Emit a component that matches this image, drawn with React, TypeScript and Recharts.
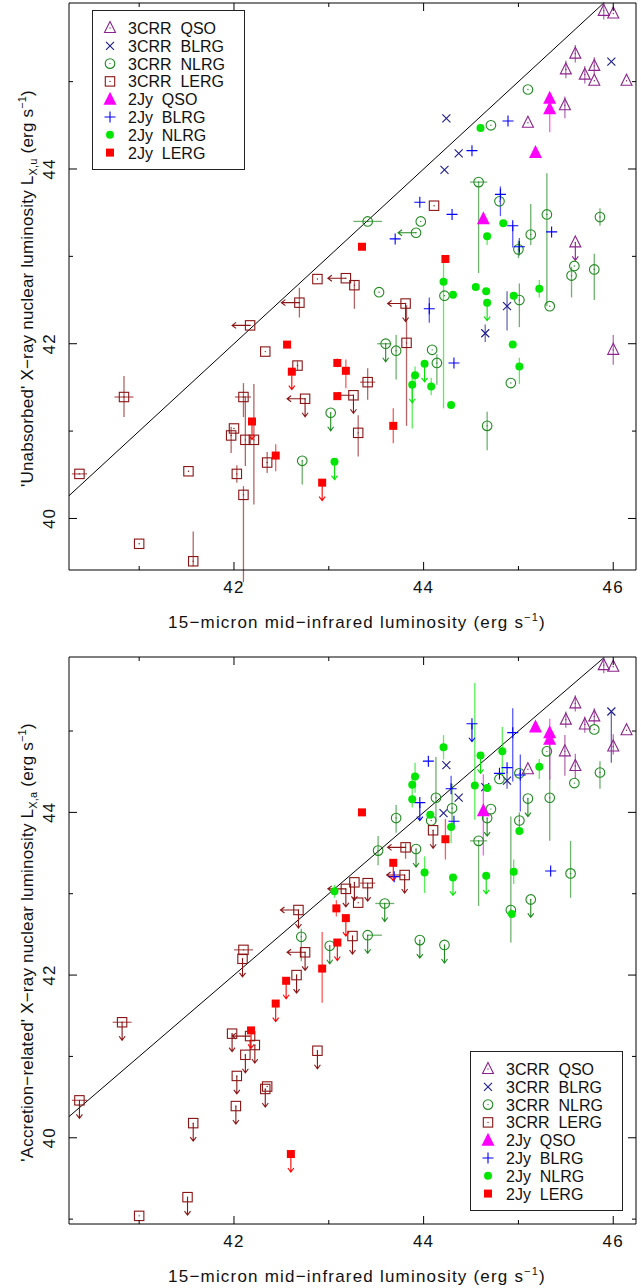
import React from "react";
import { ScatterChart, Scatter, XAxis, YAxis, ErrorBar, ReferenceLine } from "recharts";

type Pt = { x: number; y: number; ey?: [number, number]; ex?: [number, number]; dn?: boolean; lf?: boolean };

const FONT = "Liberation Sans, Arial, sans-serif";

const X_DOMAIN: [number, number] = [40.26, 46.24];
const Y_DOMAIN_U: [number, number] = [39.41, 45.9];
const Y_DOMAIN_A: [number, number] = [38.94, 45.91];
const X_TICKS = [41, 42, 43, 44, 45, 46];
const Y_TICKS_U = [40, 41, 42, 43, 44, 45];
const Y_TICKS_A = [39, 40, 41, 42, 43, 44, 45];
const EQUAL_LINE = [40.26, 45.9];

// ---- top panel: 'unabsorbed' luminosity ----
const uQso3: Pt[] = [
  { x: 45.9, y: 45.81, ey: [0.1, 0.1] },
  { x: 46.0, y: 45.78 },
  { x: 45.6, y: 45.32, ey: [0.1, 0.1] },
  { x: 45.5, y: 45.14, ey: [0.1, 0.1] },
  { x: 45.8, y: 45.18, ey: [0.1, 0.1] },
  { x: 45.7, y: 45.08, ey: [0.1, 0.1] },
  { x: 45.8, y: 45.01 },
  { x: 46.14, y: 45.01 },
  { x: 45.49, y: 44.73, ey: [0.15, 0.1] },
  { x: 45.1, y: 44.53 },
  { x: 45.6, y: 43.16, dn: true },
  { x: 46.0, y: 41.93, ey: [0.17, 0.17] },
];
const uBlrg3: Pt[] = [
  { x: 45.98, y: 45.23 },
  { x: 44.24, y: 44.58 },
  { x: 44.37, y: 44.18 },
  { x: 44.22, y: 43.99 },
  { x: 44.88, y: 42.43, ey: [0.28, 0.17] },
  { x: 44.65, y: 42.12, ey: [0.1, 0.1] },
];
const uNlrg3: Pt[] = [
  { x: 45.1, y: 44.91 },
  { x: 44.71, y: 44.5 },
  { x: 44.58, y: 43.85, ex: [0.09, 0.09], ey: [1.04, 0] },
  { x: 44.8, y: 43.63 },
  { x: 45.3, y: 43.48, ey: [1.05, 0.47] },
  { x: 45.86, y: 43.45, ey: [0.1, 0.1] },
  { x: 45.13, y: 43.25, ey: [0.12, 0.35] },
  { x: 43.97, y: 43.4 },
  { x: 43.92, y: 43.27, lf: true },
  { x: 43.41, y: 43.4, ex: [0.15, 0.15] },
  { x: 45.0, y: 43.08, ey: [0.1, 0.1] },
  { x: 45.59, y: 42.89 },
  { x: 45.8, y: 42.85, ey: [0.35, 0.18] },
  { x: 45.56, y: 42.78, ey: [0.25, 0.1] },
  { x: 43.53, y: 42.59 },
  { x: 44.22, y: 42.55 },
  { x: 45.01, y: 42.5, ey: [0.31, 0.19] },
  { x: 45.33, y: 42.43 },
  { x: 43.6, y: 42.0, ex: [0.09, 0.06], dn: true },
  { x: 43.71, y: 41.92, ey: [0.33, 0.18] },
  { x: 44.09, y: 41.93 },
  { x: 44.14, y: 41.78, ey: [0.25, 0.1] },
  { x: 44.92, y: 41.55 },
  { x: 44.67, y: 41.06, ey: [0.28, 0.16] },
  { x: 43.02, y: 41.21, dn: true },
  { x: 42.72, y: 40.66, ey: [0.27, 0] },
];
const uLerg3: Pt[] = [
  { x: 44.11, y: 43.58 },
  { x: 43.18, y: 42.75, lf: true },
  { x: 43.27, y: 42.67, ey: [0.27, 0.05] },
  { x: 42.88, y: 42.74 },
  { x: 42.69, y: 42.47, lf: true, ey: [0.17, 0.17] },
  { x: 42.17, y: 42.21, lf: true },
  { x: 42.33, y: 41.91 },
  { x: 42.67, y: 41.75, ey: [0.05, 0.05] },
  { x: 42.75, y: 41.37, lf: true, dn: true },
  { x: 43.26, y: 41.41, lf: true, dn: true },
  { x: 40.84, y: 41.39, ex: [0.1, 0.1], ey: [0.23, 0.24] },
  { x: 42.1, y: 41.39, ex: [0.09, 0.08], ey: [0.23, 0.16] },
  { x: 42.0, y: 41.03 },
  { x: 41.97, y: 40.95, ey: [0.2, 0.1] },
  { x: 42.12, y: 40.9, ey: [0.3, 0.5] },
  { x: 42.21, y: 40.9, ey: [0.74, 0.64] },
  { x: 42.35, y: 40.64, ey: [0.12, 0.12] },
  { x: 43.31, y: 40.98, ey: [0.27, 0.2] },
  { x: 41.52, y: 40.54 },
  { x: 42.03, y: 40.51, ey: [0.1, 0.1] },
  { x: 42.1, y: 40.27, ey: [1.0, 0.1] },
  { x: 40.37, y: 40.51, ex: [0.08, 0.08] },
  { x: 41.0, y: 39.71 },
  { x: 41.57, y: 39.51, ey: [0.06, 0.34] },
  { x: 43.41, y: 41.56, ex: [0.08, 0.08], ey: [0.2, 0.16] },
  { x: 43.81, y: 42.46, lf: true, dn: true },
  { x: 43.82, y: 42.01, ey: [0.95, 0.43] },
];
const uQso2: Pt[] = [
  { x: 45.33, y: 44.81 },
  { x: 45.33, y: 44.69, ey: [0.27, 0] },
  { x: 45.18, y: 44.19 },
  { x: 44.63, y: 43.43 },
];
const uBlrg2: Pt[] = [
  { x: 44.89, y: 44.55 },
  { x: 44.51, y: 44.21 },
  { x: 43.96, y: 43.62 },
  { x: 44.3, y: 43.48 },
  { x: 43.7, y: 43.2 },
  { x: 44.81, y: 43.71, ey: [0.25, 0.09] },
  { x: 44.94, y: 43.35, ey: [0.25, 0] },
  { x: 45.01, y: 43.11, ey: [0.1, 0.1] },
  { x: 45.35, y: 43.28 },
  { x: 44.06, y: 42.4, ey: [0.16, 0.13] },
  { x: 44.32, y: 41.78 },
];
const uNlrg2: Pt[] = [
  { x: 44.6, y: 44.47 },
  { x: 44.84, y: 43.38 },
  { x: 44.67, y: 43.23, ey: [0.1, 0] },
  { x: 44.21, y: 42.71, ey: [1.45, 0.26] },
  { x: 44.31, y: 42.56 },
  { x: 44.55, y: 42.65 },
  { x: 44.66, y: 42.6 },
  { x: 44.95, y: 42.55 },
  { x: 45.22, y: 42.63, ey: [0.1, 0.1] },
  { x: 44.67, y: 42.47, dn: true },
  { x: 44.94, y: 41.99 },
  { x: 45.01, y: 41.74, ey: [0.2, 0.1] },
  { x: 44.01, y: 41.77, dn: true },
  { x: 43.91, y: 41.64, ey: [0.1, 0.1] },
  { x: 43.88, y: 41.53, dn: true, ey: [0.5, 0.1] },
  { x: 44.08, y: 41.51, ey: [0.1, 0.1] },
  { x: 44.29, y: 41.3 },
  { x: 43.06, y: 40.65, dn: true },
];
const uLerg2: Pt[] = [
  { x: 43.35, y: 43.11 },
  { x: 44.23, y: 42.97 },
  { x: 42.56, y: 41.99 },
  { x: 42.61, y: 41.68, dn: true },
  { x: 43.09, y: 41.78, ey: [0.05, 0.05] },
  { x: 43.18, y: 41.69, ey: [0.2, 0.13] },
  { x: 43.09, y: 41.4 },
  { x: 42.19, y: 41.11, dn: true },
  { x: 42.44, y: 40.72, ey: [0.18, 0.13] },
  { x: 42.93, y: 40.41, dn: true },
  { x: 43.68, y: 41.06, ey: [0.2, 0.2] },
];

// ---- bottom panel: accretion-related luminosity ----
const aQso3: Pt[] = [
  { x: 45.9, y: 45.81, ey: [0.1, 0.1] },
  { x: 46.0, y: 45.79 },
  { x: 45.6, y: 45.34, ey: [0.1, 0.1] },
  { x: 45.5, y: 45.14, ey: [0.1, 0.1] },
  { x: 45.8, y: 45.18, ey: [0.1, 0.1] },
  { x: 45.7, y: 45.08, ey: [0.1, 0.1] },
  { x: 46.14, y: 45.01 },
  { x: 45.49, y: 44.75, ey: [0.3, 0.2] },
  { x: 46.0, y: 44.81, ey: [0.1, 0.15] },
  { x: 45.6, y: 44.57, ey: [0.15, 0.15] },
  { x: 45.1, y: 44.53 },
];
const aBlrg3: Pt[] = [
  { x: 45.98, y: 45.24, ey: [0.63, 0] },
  { x: 44.24, y: 44.58 },
  { x: 44.37, y: 44.18 },
  { x: 44.21, y: 43.99 },
  { x: 44.88, y: 44.39, ey: [0.1, 0.1] },
  { x: 44.65, y: 44.31 },
];
const aNlrg3: Pt[] = [
  { x: 45.8, y: 45.02 },
  { x: 45.3, y: 44.75 },
  { x: 45.86, y: 44.49, ey: [0.2, 0.14] },
  { x: 45.59, y: 44.36 },
  { x: 45.01, y: 44.48 },
  { x: 44.8, y: 44.41 },
  { x: 45.1, y: 44.17, dn: true },
  { x: 45.33, y: 44.18, ey: [0.53, 0.67] },
  { x: 44.71, y: 44.04 },
  { x: 44.67, y: 43.93, dn: true },
  { x: 45.01, y: 43.9, ey: [0.1, 0.1] },
  { x: 44.13, y: 44.18, ey: [0.3, 0.5] },
  { x: 44.08, y: 43.9 },
  { x: 44.3, y: 44.05, ey: [0.2, 0.3] },
  { x: 43.71, y: 43.93, ey: [0.18, 0.16] },
  { x: 43.52, y: 43.53, ey: [0.18, 0.18] },
  { x: 43.92, y: 43.55, dn: true },
  { x: 44.58, y: 43.65, ex: [0.09, 0.09], ey: [0.8, 0] },
  { x: 45.55, y: 43.25, ey: [0.3, 0.4] },
  { x: 44.92, y: 42.8, ey: [0.4, 1.15] },
  { x: 45.13, y: 42.93, dn: true },
  { x: 43.59, y: 42.88, ex: [0.1, 0.1], dn: true },
  { x: 43.41, y: 42.49, ex: [0, 0.15], dn: true },
  { x: 43.96, y: 42.43, dn: true },
  { x: 44.22, y: 42.37, dn: true },
  { x: 42.71, y: 42.47, ey: [0.3, 0.1] },
  { x: 43.01, y: 42.36, dn: true },
];
const aLerg3: Pt[] = [
  { x: 44.1, y: 43.78, dn: true },
  { x: 43.81, y: 43.57, lf: true, ey: [0.14, 0.05] },
  { x: 43.8, y: 43.23, lf: true, dn: true },
  { x: 43.27, y: 43.14, dn: true },
  { x: 43.41, y: 43.13, ex: [0.08, 0.08], dn: true },
  { x: 43.18, y: 43.06, lf: true, dn: true },
  { x: 43.31, y: 42.89 },
  { x: 43.25, y: 42.48, dn: true },
  { x: 42.68, y: 42.8, lf: true, dn: true },
  { x: 42.1, y: 42.31, ex: [0.1, 0.1] },
  { x: 42.09, y: 42.2, dn: true },
  { x: 42.75, y: 42.28, lf: true, dn: true },
  { x: 42.66, y: 42.0, dn: true },
  { x: 40.82, y: 41.42, ex: [0.1, 0.1], dn: true },
  { x: 41.98, y: 41.28, dn: true },
  { x: 42.17, y: 41.25, lf: true },
  { x: 42.22, y: 41.14, dn: true },
  { x: 42.12, y: 41.02, dn: true },
  { x: 42.03, y: 40.76, dn: true },
  { x: 42.35, y: 40.63 },
  { x: 42.33, y: 40.6, dn: true },
  { x: 42.02, y: 40.39, dn: true },
  { x: 42.88, y: 41.07, dn: true },
  { x: 40.37, y: 40.46, ex: [0.08, 0.08], dn: true },
  { x: 41.57, y: 40.18, dn: true },
  { x: 41.51, y: 39.27, dn: true },
  { x: 41.0, y: 39.04 },
];
const aQso2: Pt[] = [
  { x: 45.18, y: 45.05 },
  { x: 45.33, y: 44.98 },
  { x: 45.33, y: 44.9, ey: [0.5, 0.25] },
  { x: 44.63, y: 44.02, ey: [0.55, 0.45] },
];
const aBlrg2: Pt[] = [
  { x: 44.51, y: 45.09, dn: true },
  { x: 44.94, y: 44.98, ey: [0.6, 0.3] },
  { x: 44.88, y: 44.55 },
  { x: 44.8, y: 44.48 },
  { x: 45.02, y: 44.46, ey: [0.45, 0.25] },
  { x: 44.05, y: 44.63 },
  { x: 44.29, y: 44.29, ey: [0, 0.16] },
  { x: 43.96, y: 44.12, dn: true },
  { x: 44.32, y: 43.89 },
  { x: 43.69, y: 43.21 },
  { x: 45.34, y: 43.28 },
];
const aNlrg2: Pt[] = [
  { x: 44.21, y: 44.8, ey: [0.15, 0.15] },
  { x: 44.6, y: 44.7, dn: true },
  { x: 44.83, y: 44.75, ey: [0.3, 0.3] },
  { x: 45.22, y: 44.56, ey: [0.15, 0.1] },
  { x: 43.91, y: 44.44, ey: [0.2, 0.17] },
  { x: 43.88, y: 44.34 },
  { x: 43.88, y: 44.16, ey: [0.1, 0.3] },
  { x: 44.54, y: 44.33, ey: [0.42, 1.26] },
  { x: 44.67, y: 44.3 },
  { x: 44.07, y: 43.97 },
  { x: 44.29, y: 43.82, ey: [0.2, 0] },
  { x: 45.01, y: 43.77 },
  { x: 44.01, y: 43.26, ey: [0.25, 0.2] },
  { x: 44.31, y: 43.2, dn: true },
  { x: 44.66, y: 43.22, dn: true },
  { x: 44.95, y: 43.27, ey: [0.15, 0.15] },
  { x: 44.93, y: 42.75 },
  { x: 43.06, y: 43.03, ey: [0.08, 0.08] },
];
const aLerg2: Pt[] = [
  { x: 43.35, y: 44.0 },
  { x: 44.23, y: 43.67, ey: [0.25, 0.25] },
  { x: 43.68, y: 43.38, dn: true },
  { x: 43.08, y: 42.82, ey: [0.1, 0.1] },
  { x: 43.18, y: 42.7, dn: true },
  { x: 43.09, y: 42.4, dn: true },
  { x: 42.93, y: 42.08, ey: [0.42, 0.45] },
  { x: 42.55, y: 41.93, dn: true },
  { x: 42.44, y: 41.65, dn: true },
  { x: 42.18, y: 41.32, dn: true },
  { x: 42.6, y: 39.8, dn: true },
];

const GROUPS = [
  { id: "qso3", label: "3CRR  QSO", kind: "triO", color: "#8c238c" },
  { id: "blrg3", label: "3CRR  BLRG", kind: "cross", color: "#1c1c8c" },
  { id: "nlrg3", label: "3CRR  NLRG", kind: "circO", color: "#1f8a1f" },
  { id: "lerg3", label: "3CRR  LERG", kind: "sqO", color: "#8b1414" },
  { id: "qso2", label: "2Jy  QSO", kind: "triF", color: "#ff00ff" },
  { id: "blrg2", label: "2Jy  BLRG", kind: "plus", color: "#0000ff" },
  { id: "nlrg2", label: "2Jy  NLRG", kind: "circF", color: "#00e600" },
  { id: "lerg2", label: "2Jy  LERG", kind: "sqF", color: "#ff0000" },
];

const unabsorbed: Record<string, Pt[]> = {
  qso3: uQso3, blrg3: uBlrg3, nlrg3: uNlrg3, lerg3: uLerg3,
  qso2: uQso2, blrg2: uBlrg2, nlrg2: uNlrg2, lerg2: uLerg2,
};
const accretion: Record<string, Pt[]> = {
  qso3: aQso3, blrg3: aBlrg3, nlrg3: aNlrg3, lerg3: aLerg3,
  qso2: aQso2, blrg2: aBlrg2, nlrg2: aNlrg2, lerg2: aLerg2,
};

const Marker = ({ kind, color, cx, cy, dn, lf }: any) => {
  const sw = 1.1;
  let body: React.ReactNode = null;
  if (kind === "triO")
    body = <polygon points={`${cx},${cy - 6.5} ${cx - 5.5},${cy + 4.5} ${cx + 5.5},${cy + 4.5}`} fill="none" stroke={color} strokeWidth={sw} />;
  else if (kind === "triF")
    body = <polygon points={`${cx},${cy - 7.5} ${cx - 6.5},${cy + 5.5} ${cx + 6.5},${cy + 5.5}`} fill={color} />;
  else if (kind === "cross")
    body = <path d={`M${cx - 4},${cy - 4}L${cx + 4},${cy + 4}M${cx - 4},${cy + 4}L${cx + 4},${cy - 4}`} stroke={color} strokeWidth={sw} />;
  else if (kind === "plus")
    body = <path d={`M${cx - 5.5},${cy}H${cx + 5.5}M${cx},${cy - 5.5}V${cy + 5.5}`} stroke={color} strokeWidth={sw} />;
  else if (kind === "circO")
    body = <circle cx={cx} cy={cy} r={4.8} fill="none" stroke={color} strokeWidth={sw} />;
  else if (kind === "circF")
    body = <circle cx={cx} cy={cy} r={4} fill={color} />;
  else if (kind === "sqO")
    body = <rect x={cx - 4.7} y={cy - 4.7} width={9.4} height={9.4} fill="none" stroke={color} strokeWidth={sw} />;
  else if (kind === "sqF")
    body = <rect x={cx - 4} y={cy - 4} width={8} height={8} fill={color} />;
  const open = kind === "triO" || kind === "circO" || kind === "sqO";
  return (
    <g>
      {body}
      {open && <circle cx={cx} cy={cy} r={0.7} fill={color} />}
      {dn && (
        <path d={`M${cx},${cy}V${cy + 18}M${cx - 3},${cy + 14}L${cx},${cy + 18}L${cx + 3},${cy + 14}`} stroke={color} strokeWidth={1.1} fill="none" />
      )}
      {lf && (
        <path d={`M${cx},${cy}H${cx - 18}M${cx - 14},${cy - 3}L${cx - 18},${cy}L${cx - 14},${cy + 3}`} stroke={color} strokeWidth={1.1} fill="none" />
      )}
    </g>
  );
};

const legendText = { fontFamily: FONT, fontSize: 16, fill: "#111" };
const axisText = { fontFamily: FONT, fontSize: 17, fill: "#111", letterSpacing: 1.2 };
const yTitleText = { fontFamily: FONT, fontSize: 17, fill: "#111", letterSpacing: 0.2 };

const BottomTick = (p: any) => {
  const v = p.payload.value;
  const major = v % 2 === 0;
  return (
    <g>
      <line x1={p.x} y1={p.y} x2={p.x} y2={p.y - (major ? 8 : 4)} stroke="#000" />
      {major && <text x={p.x} y={p.y + 23} textAnchor="middle" {...axisText}>{v}</text>}
    </g>
  );
};
const TopTick = (p: any) => {
  const major = p.payload.value % 2 === 0;
  return <line x1={p.x} y1={p.y} x2={p.x} y2={p.y + (major ? 8 : 4)} stroke="#000" />;
};
const LeftTick = (p: any) => {
  const v = p.payload.value;
  const major = v % 2 === 0;
  const tx = p.x - 14;
  return (
    <g>
      <line x1={p.x} y1={p.y} x2={p.x + (major ? 8 : 4)} y2={p.y} stroke="#000" />
      {major && (
        <text x={tx} y={p.y} textAnchor="middle" transform={`rotate(-90 ${tx} ${p.y})`} {...axisText}>{v}</text>
      )}
    </g>
  );
};
const RightTick = (p: any) => {
  const major = p.payload.value % 2 === 0;
  return <line x1={p.x} y1={p.y} x2={p.x - (major ? 8 : 4)} y2={p.y} stroke="#000" />;
};

const XTitle = (plotBottom: number) => () => (
  <text x={357} y={plotBottom + 58} textAnchor="middle" {...axisText}>
    15−micron mid−infrared luminosity (erg s<tspan fontSize={11} dy={-7}>−1</tspan><tspan dy={7}>)</tspan>
  </text>
);

const YTitle = (lead: string, sub: string, cy: number) => () => (
  <text x={33} y={cy} textAnchor="middle" transform={`rotate(-90 33 ${cy})`} {...yTitleText}>
    {lead} L<tspan fontSize={11} dy={4}>{sub}</tspan><tspan dy={-4}> (erg s</tspan><tspan fontSize={11} dy={-7}>−1</tspan><tspan dy={7}>)</tspan>
  </text>
);

const LegendBox = ({ left, top }: { left: number; top: number }) => (
  <svg width={154} height={161} style={{ position: "absolute", left, top }}>
    <rect x={0.5} y={0.5} width={152} height={159} fill="#fff" stroke="#222" />
    {GROUPS.map((g, i) => {
      const cy = 18 + i * 17.8;
      return (
        <g key={g.id}>
          <Marker kind={g.kind} color={g.color} cx={18} cy={cy} />
          <text x={36} y={cy + 6} xmlSpace="preserve" {...legendText}>{g.label}</text>
        </g>
      );
    })}
  </svg>
);

const errY = (d: Pt) => d.ey ?? [0, 0];
const errX = (d: Pt) => d.ex ?? [0, 0];

const Panel = ({ top, height, bottomH, yDomain, yTicks, sets, lead, sub, legend }: any) => {
  const plotBottom = height - bottomH;
  return (
    <div style={{ position: "absolute", left: 0, top, width: 641, height }}>
      <ScatterChart width={641} height={height} margin={{ top: 0, right: 0, bottom: 0, left: 0 }}>
        <XAxis xAxisId="b" type="number" dataKey="x" domain={X_DOMAIN} allowDataOverflow ticks={X_TICKS} interval={0}
          tickSize={0} tickMargin={0} tickLine={false} height={bottomH} axisLine={{ stroke: "#000" }} tick={BottomTick}
          label={XTitle(plotBottom)} />
        <XAxis xAxisId="t" orientation="top" type="number" dataKey="x" domain={X_DOMAIN} allowDataOverflow ticks={X_TICKS} interval={0}
          tickSize={0} tickMargin={0} tickLine={false} height={3} axisLine={{ stroke: "#000" }} tick={TopTick} />
        <YAxis yAxisId="l" type="number" dataKey="y" domain={yDomain} allowDataOverflow ticks={yTicks} interval={0}
          tickSize={0} tickMargin={0} tickLine={false} width={69} axisLine={{ stroke: "#000" }} tick={LeftTick}
          label={YTitle(lead, sub, (3 + plotBottom) / 2 + 2)} />
        <YAxis yAxisId="r" orientation="right" type="number" dataKey="y" domain={yDomain} allowDataOverflow ticks={yTicks} interval={0}
          tickSize={0} tickMargin={0} tickLine={false} width={5} axisLine={{ stroke: "#000" }} tick={RightTick} />
        <ReferenceLine xAxisId="b" yAxisId="l" stroke="#000" strokeWidth={1}
          segment={[{ x: EQUAL_LINE[0], y: EQUAL_LINE[0] }, { x: EQUAL_LINE[1], y: EQUAL_LINE[1] }]} />
        {GROUPS.map((g) => (
          <Scatter key={g.id} name={g.label} xAxisId="b" yAxisId="l" data={sets[g.id]} isAnimationActive={false}
            shape={(p: any) => <Marker kind={g.kind} color={g.color} cx={p.cx} cy={p.cy} dn={p.payload?.dn} lf={p.payload?.lf} />}>
            <ErrorBar dataKey={errY} direction="y" width={0} stroke={g.color} strokeOpacity={0.65} strokeWidth={1.3} />
            <ErrorBar dataKey={errX} direction="x" width={0} stroke={g.color} strokeOpacity={0.65} strokeWidth={1.3} />
          </Scatter>
        ))}
      </ScatterChart>
      <LegendBox left={legend[0]} top={legend[1]} />
    </div>
  );
};

export default function App() {
  return (
    <div style={{ position: "absolute", left: 0, top: 0, width: 641, height: 1288, overflow: "hidden", background: "#fff", fontFamily: FONT }}>
      <Panel top={0} height={640} bottomH={70} yDomain={Y_DOMAIN_U} yTicks={Y_TICKS_U} sets={unabsorbed}
        lead="'Unabsorbed' X−ray nuclear luminosity" sub="X,u" legend={[92, 10]} />
      <Panel top={654} height={634} bottomH={64} yDomain={Y_DOMAIN_A} yTicks={Y_TICKS_A} sets={accretion}
        lead="'Accretion−related' X−ray nuclear luminosity" sub="X,a" legend={[470, 397]} />
    </div>
  );
}
